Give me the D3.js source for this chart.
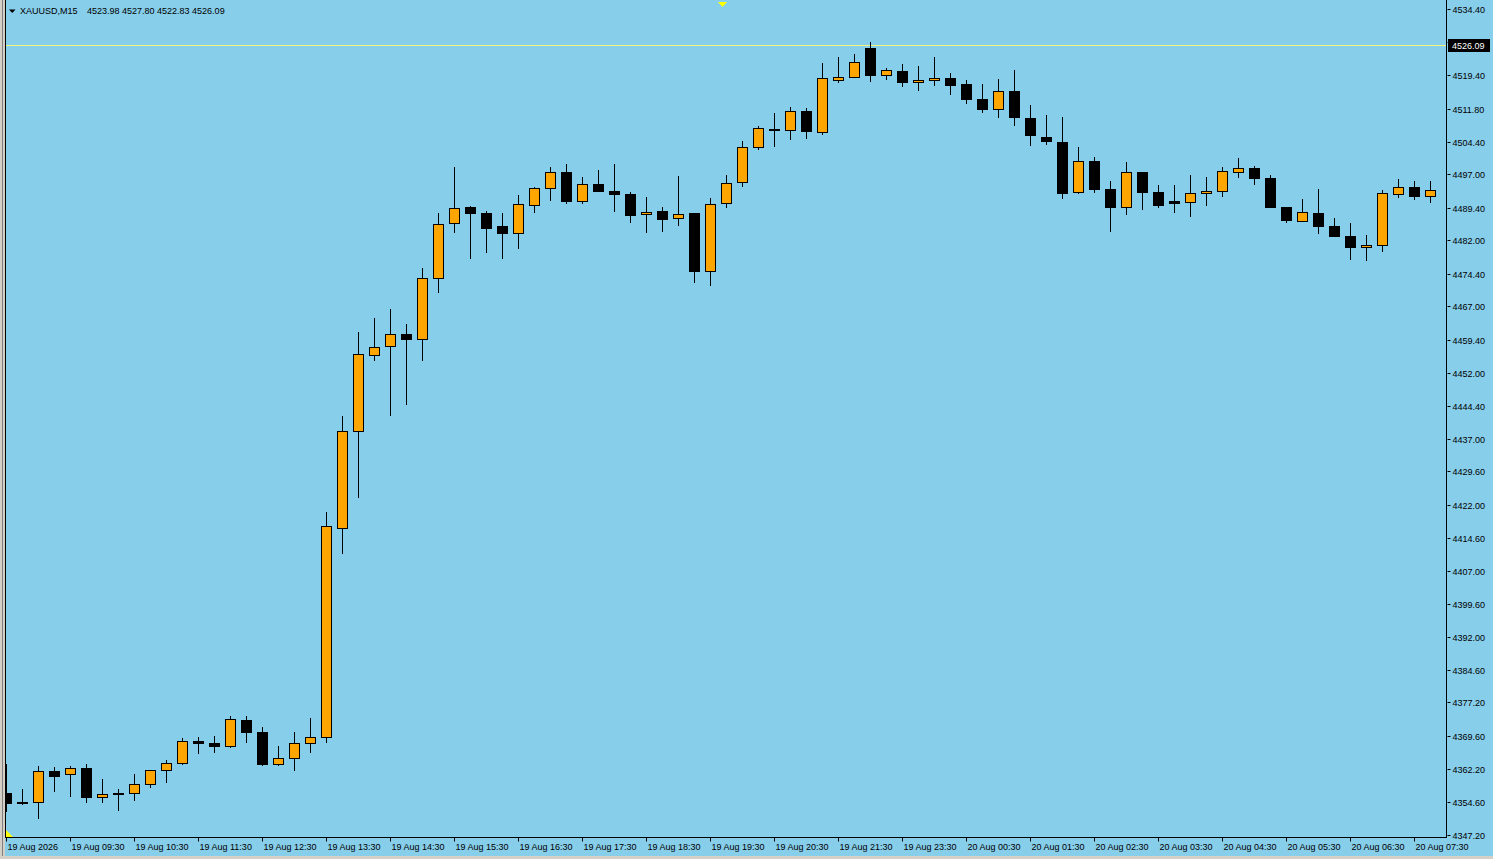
<!DOCTYPE html>
<html><head><meta charset="utf-8">
<script src="https://cdn.jsdelivr.net/npm/d3@7"></script>
<style>html,body{margin:0;padding:0;background:#87ceeb;overflow:hidden}svg{display:block}</style>
</head><body><svg id="c" width="1493" height="859"></svg>
<script>
const times = [
"19 Aug 08:30","19 Aug 08:45","19 Aug 09:00","19 Aug 09:15","19 Aug 09:30","19 Aug 09:45","19 Aug 10:00","19 Aug 10:15","19 Aug 10:30","19 Aug 10:45",
"19 Aug 11:00","19 Aug 11:15","19 Aug 11:30","19 Aug 11:45","19 Aug 12:00","19 Aug 12:15","19 Aug 12:30","19 Aug 12:45","19 Aug 13:00","19 Aug 13:15",
"19 Aug 13:30","19 Aug 13:45","19 Aug 14:00","19 Aug 14:15","19 Aug 14:30","19 Aug 14:45","19 Aug 15:00","19 Aug 15:15","19 Aug 15:30","19 Aug 15:45",
"19 Aug 16:00","19 Aug 16:15","19 Aug 16:30","19 Aug 16:45","19 Aug 17:00","19 Aug 17:15","19 Aug 17:30","19 Aug 17:45","19 Aug 18:00","19 Aug 18:15",
"19 Aug 18:30","19 Aug 18:45","19 Aug 19:00","19 Aug 19:15","19 Aug 19:30","19 Aug 19:45","19 Aug 20:00","19 Aug 20:15","19 Aug 20:30","19 Aug 20:45",
"19 Aug 21:00","19 Aug 21:15","19 Aug 21:30","19 Aug 21:45","19 Aug 23:00","19 Aug 23:15","19 Aug 23:30","19 Aug 23:45","20 Aug 00:00","20 Aug 00:15",
"20 Aug 00:30","20 Aug 00:45","20 Aug 01:00","20 Aug 01:15","20 Aug 01:30","20 Aug 01:45","20 Aug 02:00","20 Aug 02:15","20 Aug 02:30","20 Aug 02:45",
"20 Aug 03:00","20 Aug 03:15","20 Aug 03:30","20 Aug 03:45","20 Aug 04:00","20 Aug 04:15","20 Aug 04:30","20 Aug 04:45","20 Aug 05:00","20 Aug 05:15",
"20 Aug 05:30","20 Aug 05:45","20 Aug 06:00","20 Aug 06:15","20 Aug 06:30","20 Aug 06:45","20 Aug 07:00","20 Aug 07:15","20 Aug 07:30","20 Aug 07:45"];

const open = [4356.66,4354.57,4354.52,4361.65,4360.88,4362.34,4355.66,4356.73,4356.57,4358.61,
4361.79,4363.47,4368.53,4367.92,4367.32,4373.15,4370.49,4363.24,4364.62,4368.01,
4369.37,4416.80,4438.80,4456.04,4458.09,4460.81,4459.68,4473.52,4486.00,4489.63,
4488.27,4485.32,4483.64,4490.08,4493.94,4497.57,4490.90,4494.85,4493.26,4492.42,
4488.04,4488.56,4487.13,4488.11,4475.01,4490.54,4495.14,4503.08,4506.94,4506.94,
4511.25,4506.56,4518.45,4519.04,4525.71,4519.58,4520.49,4517.99,4518.45,4518.90,
4517.54,4514.13,4511.77,4515.95,4509.82,4505.51,4504.38,4493.03,4500.07,4493.71,
4489.54,4497.57,4493.03,4490.83,4490.68,4492.71,4493.26,4497.57,4498.48,4496.21,
4489.63,4486.45,4488.27,4485.32,4483.05,4480.56,4480.92,4492.49,4494.17,4492.03];

const high = [4363.24,4357.57,4362.86,4362.56,4362.86,4363.24,4359.84,4357.57,4360.97,4361.88,
4364.22,4369.14,4369.44,4369.67,4374.20,4374.20,4371.62,4367.40,4370.56,4373.75,
4420.49,4442.21,4461.10,4464.28,4466.33,4462.92,4475.63,4488.11,4498.73,4489.70,
4488.62,4488.11,4492.34,4494.00,4498.73,4499.22,4496.28,4497.88,4499.22,4492.88,
4491.74,4489.49,4496.51,4488.11,4491.51,4496.74,4504.44,4507.85,4510.80,4512.16,
4511.93,4522.14,4523.51,4524.19,4526.91,4521.17,4521.92,4521.62,4523.67,4520.03,
4518.45,4517.54,4518.67,4520.71,4512.77,4510.50,4510.05,4503.24,4500.97,4495.53,
4499.84,4497.60,4494.62,4494.62,4496.89,4496.44,4498.71,4500.75,4498.93,4496.89,
4489.63,4491.44,4493.71,4487.13,4485.99,4483.28,4493.48,4495.98,4495.53,4495.53];

const low = [4352.48,4354.16,4350.89,4357.18,4356.04,4354.52,4354.52,4352.87,4355.14,4357.93,
4359.23,4363.30,4365.65,4365.87,4367.20,4368.23,4363.00,4362.90,4361.79,4365.87,
4368.19,4411.03,4423.74,4454.82,4442.35,4444.84,4454.82,4470.34,4483.87,4477.96,
4479.33,4477.96,4480.24,4488.40,4491.06,4490.45,4490.45,4493.10,4488.63,4486.13,
4483.87,4484.09,4485.45,4472.51,4471.83,4489.54,4494.24,4502.63,4503.31,4504.90,
4505.13,4506.03,4517.99,4519.00,4518.13,4518.58,4516.99,4516.09,4517.22,4515.18,
4513.14,4511.09,4509.96,4508.14,4503.61,4503.83,4491.58,4492.71,4492.94,4484.09,
4487.95,4489.08,4489.54,4488.40,4487.49,4489.99,4492.03,4496.34,4494.76,4489.50,
4486.13,4486.40,4483.64,4482.90,4477.73,4477.51,4479.55,4491.81,4491.35,4490.72];

const close = [4354.30,4354.34,4361.65,4360.43,4362.34,4355.66,4356.43,4356.34,4358.70,4361.88,
4363.47,4368.46,4367.92,4367.32,4373.45,4370.56,4363.24,4364.62,4368.01,4369.37,
4417.25,4438.80,4456.27,4457.86,4460.81,4459.68,4473.52,4485.77,4489.40,4488.18,
4484.77,4483.64,4490.31,4493.94,4497.57,4490.90,4494.85,4493.17,4492.49,4487.72,
4488.49,4486.81,4488.04,4475.01,4490.31,4495.08,4503.08,4507.40,4507.17,4511.25,
4506.71,4518.90,4519.13,4522.53,4519.49,4520.71,4517.90,4518.45,4518.90,4517.22,
4514.04,4511.77,4515.95,4509.96,4505.87,4504.51,4492.71,4500.07,4493.62,4489.54,
4497.57,4492.94,4489.99,4490.45,4492.80,4493.26,4497.80,4498.48,4496.12,4489.54,
4486.59,4488.49,4485.23,4482.96,4480.47,4481.01,4492.80,4494.17,4492.03,4493.48];

const priceTicks = [4534.40,4527.00,4519.40,4511.80,4504.40,4497.00,4489.40,4482.00,4474.40,4467.00,
4459.40,4452.00,4444.40,4437.00,4429.60,4422.00,4414.60,4407.00,4399.60,4392.00,
4384.60,4377.20,4369.60,4362.20,4354.60,4347.20];

const xTickTimes = ["19 Aug 08:30","19 Aug 09:30","19 Aug 10:30","19 Aug 11:30","19 Aug 12:30","19 Aug 13:30",
"19 Aug 14:30","19 Aug 15:30","19 Aug 16:30","19 Aug 17:30","19 Aug 18:30","19 Aug 19:30","19 Aug 20:30",
"19 Aug 21:30","19 Aug 23:30","20 Aug 00:30","20 Aug 01:30","20 Aug 02:30","20 Aug 03:30","20 Aug 04:30",
"20 Aug 05:30","20 Aug 06:30","20 Aug 07:30"];
const xTickLabels = ["19 Aug 2026","19 Aug 09:30","19 Aug 10:30","19 Aug 11:30","19 Aug 12:30","19 Aug 13:30",
"19 Aug 14:30","19 Aug 15:30","19 Aug 16:30","19 Aug 17:30","19 Aug 18:30","19 Aug 19:30","19 Aug 20:30",
"19 Aug 21:30","19 Aug 23:30","20 Aug 00:30","20 Aug 01:30","20 Aug 02:30","20 Aug 03:30","20 Aug 04:30",
"20 Aug 05:30","20 Aug 06:30","20 Aug 07:30"];

const symbolTitle = "XAUUSD,M15";
const headerValues = ["4523.98","4527.80","4522.83","4526.09"];
const lastPrice = 4526.09;
const markerTime = "19 Aug 19:45";

const W = 1493, H = 859;
const L = 5, R = 1446, B = 837;
const FONT = "'Liberation Sans', Arial, sans-serif";
const SKY = "#87ceeb", ORANGE = "#ffa500";

const svg = d3.select("#c");
const y = d3.scaleLinear().domain([4347.20, 4534.40]).range([834.7, 9.3]);
const x = d3.scalePoint().domain(times).range([6, 6 + 16 * (times.length - 1)]);

// background
svg.append("rect").attr("x",0).attr("y",0).attr("width",W).attr("height",H).attr("fill",SKY);
// window frame
svg.append("rect").attr("x",0).attr("y",0).attr("width",5).attr("height",H).attr("fill","#d4d0c8");
svg.append("rect").attr("x",2).attr("y",0).attr("width",1).attr("height",H).attr("fill","#808080");
svg.append("rect").attr("x",0).attr("y",856).attr("width",W).attr("height",3).attr("fill","#d4d0c8");

svg.append("defs").append("clipPath").attr("id","plot")
  .append("rect").attr("x",L+1).attr("y",0).attr("width",R-L-1).attr("height",B);

const plot = svg.append("g").attr("clip-path","url(#plot)");

// current price line
const yl = Math.round(y(lastPrice)) - 0.5;
plot.append("line").attr("x1",L).attr("x2",R).attr("y1",yl).attr("y2",yl)
  .attr("stroke","#f4f47a").attr("stroke-width",1);

// candles
const idx = d3.range(times.length);
const g = plot.append("g");
idx.forEach(i => {
  const cx = x(times[i]);
  const up = close[i] >= open[i];
  g.append("line").attr("x1",cx+0.5).attr("x2",cx+0.5)
    .attr("y1",Math.round(y(high[i]))).attr("y2",Math.round(y(low[i]))+1)
    .attr("stroke","#000").attr("stroke-width",1);
  const top = Math.round(y(Math.max(open[i],close[i])));
  const bot = Math.round(y(Math.min(open[i],close[i])));
  g.append("rect").attr("x",cx-4.5).attr("y",top+0.5).attr("width",10)
    .attr("height",Math.max(bot-top,1))
    .attr("fill", up ? ORANGE : "#000").attr("stroke","#000").attr("stroke-width",1);
});

// markers
const mx = x(markerTime) - 4;
svg.append("path").attr("d",`M${mx-4},2 L${mx+5},2 L${mx+0.5},7 Z`).attr("fill","#ffff00");
svg.append("path").attr("d",`M6,830 L6,837 L13,837 Z`).attr("fill","#ffff00");

// frame lines
svg.append("line").attr("x1",L+0.5).attr("x2",L+0.5).attr("y1",0).attr("y2",B+1).attr("stroke","#000");
svg.append("line").attr("x1",R+0.5).attr("x2",R+0.5).attr("y1",0).attr("y2",B+1).attr("stroke","#000");
svg.append("line").attr("x1",L).attr("x2",R+1).attr("y1",B+0.5).attr("y2",B+0.5).attr("stroke","#000");

// right axis
const ya = svg.append("g").attr("transform",`translate(${R+0.5},0)`)
  .call(d3.axisRight(y).tickValues(priceTicks).tickSize(4).tickPadding(2).tickFormat(d3.format(".2f")));
ya.select(".domain").remove();
ya.selectAll(".tick").attr("transform", d => `translate(0,${Math.round(y(d))+0.5})`);
ya.selectAll(".tick line").attr("x1",1).attr("x2",4).attr("stroke","#000");
ya.selectAll(".tick text").attr("font-family",FONT).attr("font-size","9px").attr("fill","#000")
  .attr("x",6).attr("dy","3px");
// label hidden behind the current-price box in the reference
ya.selectAll(".tick text").filter(d => Math.abs(y(d) - y(lastPrice)) < 10).remove();

// current price box
svg.append("rect").attr("x",1448).attr("y",yl-6.5).attr("width",42).attr("height",13).attr("fill","#000");
svg.append("text").attr("x",1452).attr("y",yl+3.5).attr("font-family",FONT).attr("font-size","9px")
  .attr("fill","#fff").text(d3.format(".2f")(lastPrice));

// bottom axis
const xa = svg.append("g").attr("transform",`translate(0,${B+0.5})`)
  .call(d3.axisBottom(x).tickValues(xTickTimes).tickSize(4).tickFormat((d,i)=>xTickLabels[i]));
xa.select(".domain").remove();
xa.selectAll(".tick line").attr("stroke","#000");
xa.selectAll(".tick text").attr("font-family",FONT).attr("font-size","9px").attr("fill","#000")
  .attr("text-anchor","start").attr("x",1).attr("y",12).attr("dy",0);

// header
svg.append("path").attr("d","M9,9.5 L15.5,9.5 L12.25,13 Z").attr("fill","#000");
svg.append("text").attr("x",20).attr("y",14).attr("font-family",FONT).attr("font-size","9px")
  .attr("fill","#000").text(symbolTitle);
svg.append("text").attr("x",87).attr("y",14).attr("font-family",FONT).attr("font-size","9px")
  .attr("fill","#000").text(headerValues.join(" "));
</script>
</body></html>
